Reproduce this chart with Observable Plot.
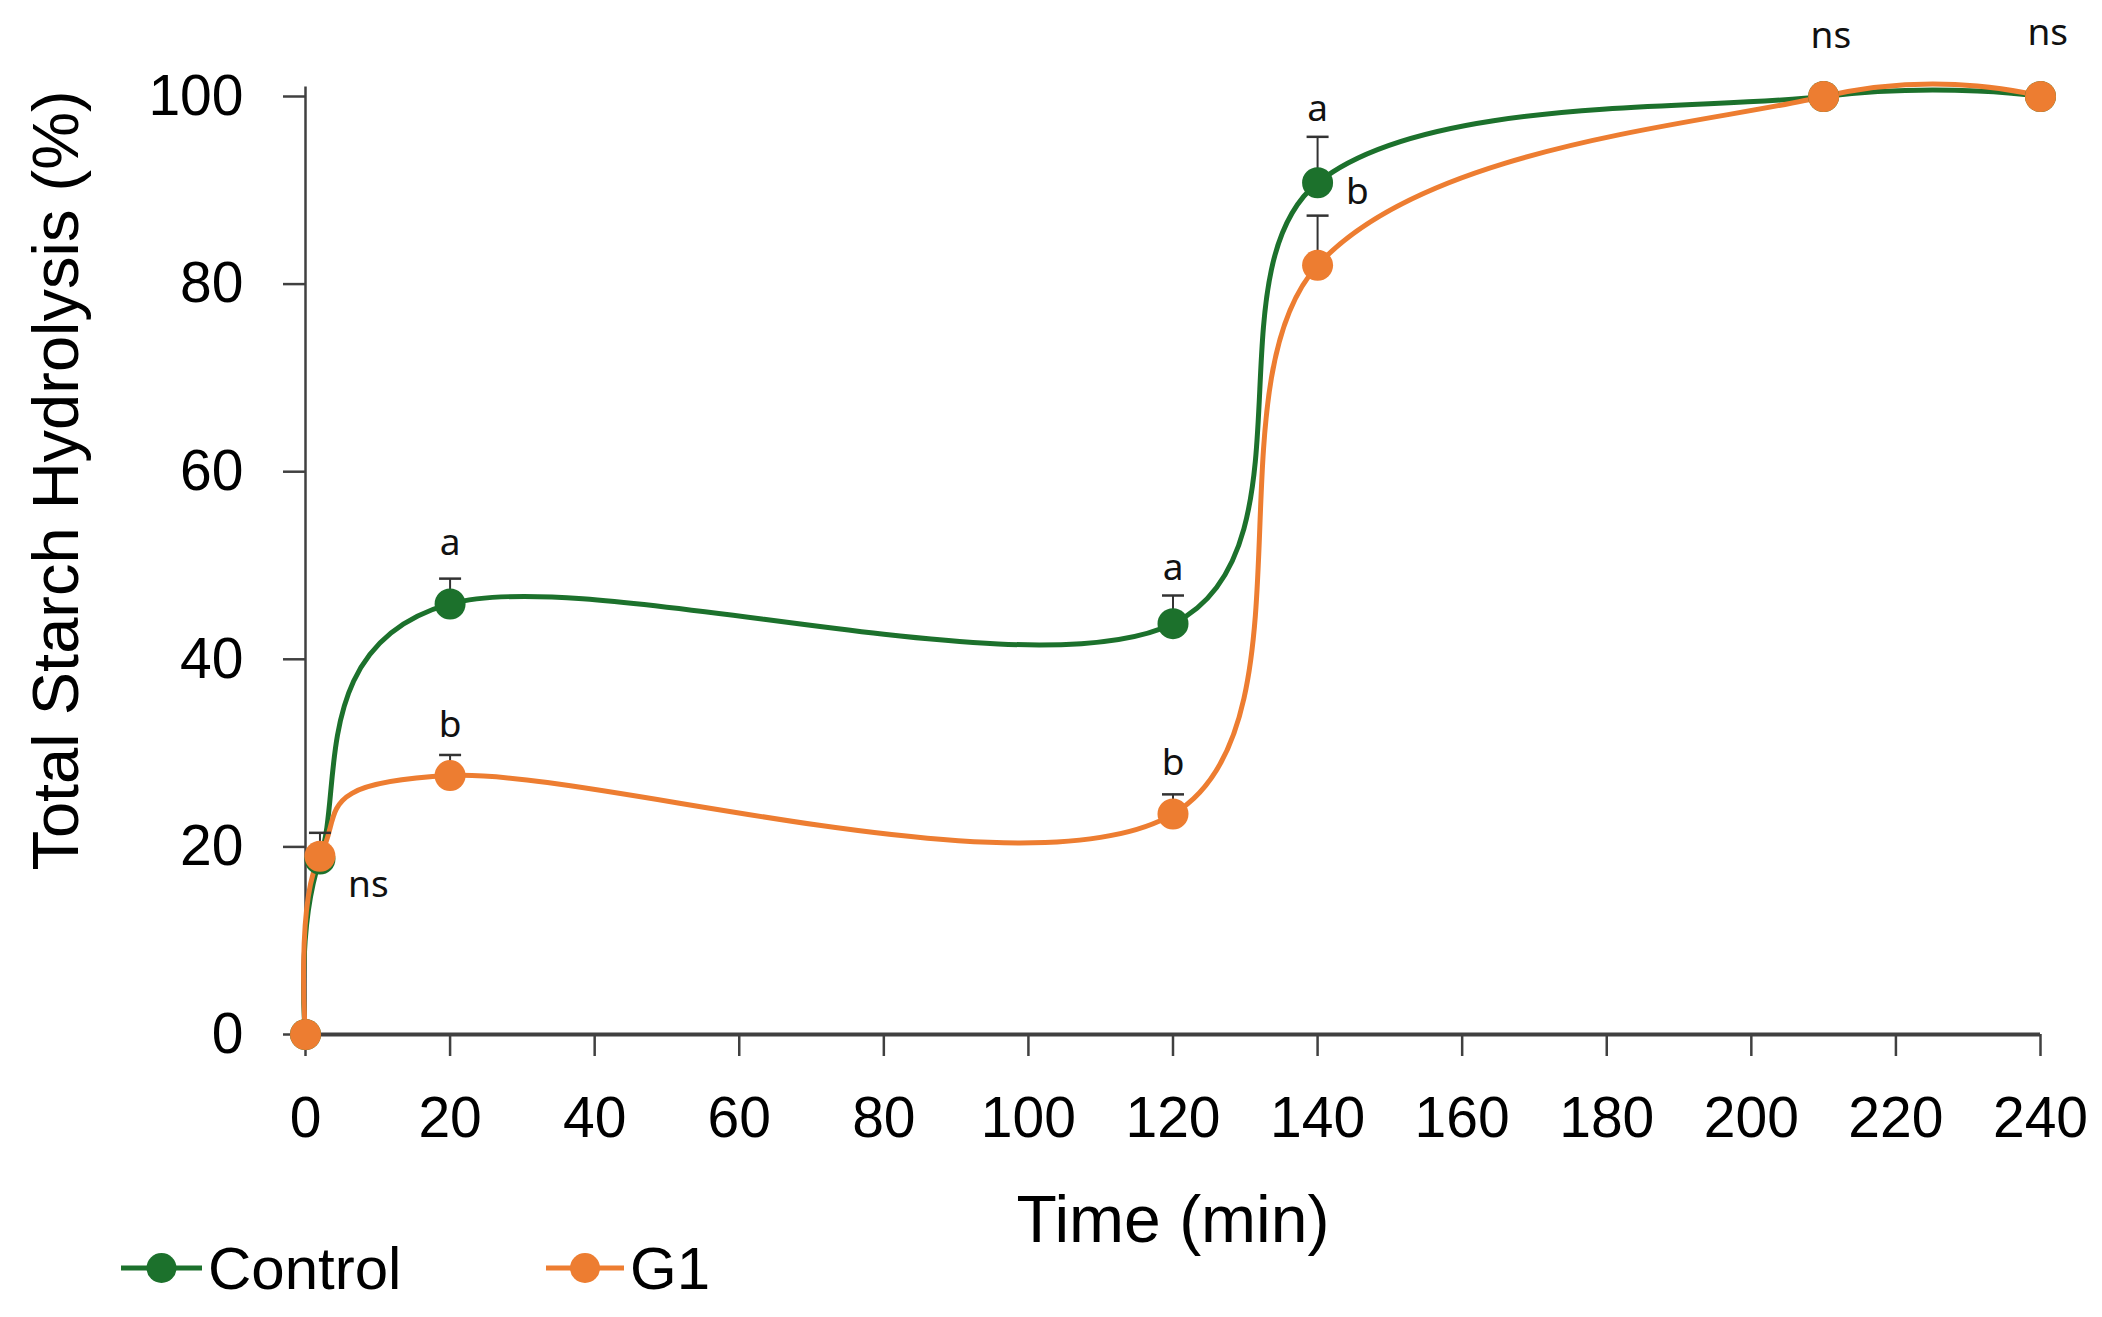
<!DOCTYPE html>
<html>
<head>
<meta charset="utf-8">
<script src="https://cdn.jsdelivr.net/npm/d3@7"></script>
<script src="https://cdn.jsdelivr.net/npm/@observablehq/plot@0.6"></script>
<style>
  html, body { margin: 0; padding: 0; background: #fff; }
  #wrap { position: relative; width: 2102px; height: 1317px; font-family: "Liberation Sans", Arial, sans-serif; }
  #legend { position: absolute; left: 0; top: 1238px; height: 60px; width: 900px; }
  #legend .item { position: absolute; top: 0; height: 60px; display: flex; align-items: center; font-size: 60px; color: #000; }
  #legend svg { display: block; }
</style>
</head>
<body>
<div id="wrap"><div id="chart"></div><div id="legend"></div></div>
<script>
// ---- data ----
const times = [0, 2, 20, 120, 140, 210, 240];
const controlValues = [0, 18.7, 45.9, 43.8, 90.8, 100, 100];
const g1Values = [0, 19.0, 27.6, 23.5, 82.0, 100, 100];
const controlErr = [null, 2.8, 2.7, 3.0, 4.9, null, null];
const g1Err = [null, null, 2.2, 2.1, 5.3, null, null];
const seriesNames = ["Control", "G1"];
const seriesColors = ["#1c712c", "#ed7d31"];
const annLabels = ["ns", "a", "b", "a", "b", "a", "b", "ns", "ns"];
const annX = [8.7, 20, 20, 120, 120, 140, 145.5, 211, 241];
const annY = [15.9, 52.4, 33.0, 49.7, 28.9, 98.6, 89.8, 106.4, 106.8];
const xTicks = [0, 20, 40, 60, 80, 100, 120, 140, 160, 180, 200, 220, 240];
const yTicks = [0, 20, 40, 60, 80, 100];

// ---- tables ----
const rows = [];
[controlValues, g1Values].forEach((vals, s) => {
  vals.forEach((v, i) => rows.push({series: seriesNames[s], t: times[i], v, err: [controlErr, g1Err][s][i]}));
});
const errRows = rows.filter(d => d.err != null).map(d => ({...d, top: d.v + d.err}));
const anns = annLabels.map((label, i) => ({label, x: annX[i], y: annY[i]}));

const capSymbol = {
  draw(context) { context.moveTo(-11, 0); context.lineTo(11, 0); }
};

const W = 2102, H = 1250;
const mL = 305, mR = 62, mT = 96, mB = H - 1034;
const axisColor = "#404040";

const chart = Plot.plot({
  width: W,
  height: H,
  marginLeft: mL,
  marginRight: mR,
  marginTop: mT,
  marginBottom: mB,
  style: {fontFamily: "'Liberation Sans', Arial, sans-serif", fontSize: "57px", color: "#000", background: "#fff", overflow: "visible"},
  x: {domain: [0, 240]},
  y: {domain: [0, 100]},
  color: {domain: seriesNames, range: seriesColors},
  marks: [
    Plot.axisX({ticks: xTicks, tickSize: 22, tickPadding: 40, tickFormat: d => String(d), label: null, stroke: axisColor, strokeWidth: 2.5}),
    Plot.axisY({ticks: yTicks, tickSize: 22, tickPadding: 40, tickFormat: d => String(d), label: null, stroke: axisColor, strokeWidth: 2.5}),
    Plot.ruleY([0], {x1: 0, x2: 240, stroke: axisColor, strokeWidth: 4}),
    Plot.ruleX([0], {y1: 0, y2: 101, stroke: axisColor, strokeWidth: 2.5}),
    Plot.line(rows, {x: "t", y: "v", z: "series", stroke: "series", strokeWidth: 5, curve: "cardinal", tension: 0}),
    Plot.ruleX(errRows, {x: "t", y1: "v", y2: "top", stroke: "#333", strokeWidth: 2}),
    Plot.dot(errRows, {x: "t", y: "top", symbol: capSymbol, stroke: "#333", strokeWidth: 2.5, r: 5}),
    Plot.dot(rows, {x: "t", y: "v", fill: "series", r: 15.5}),
    Plot.text(anns, {x: "x", y: "y", text: "label", fontSize: 37, fontFamily: "'Noto Sans', 'Open Sans', sans-serif", fill: "#111"}),
    Plot.text(["Time (min)"], {frameAnchor: "bottom", lineAnchor: "middle", dy: 1220 - 1034, fontSize: 66, textAnchor: "middle"}),
    Plot.text(["Total Starch Hydrolysis (%)"], {frameAnchor: "left", lineAnchor: "middle", rotate: -90, dx: 57 - mL, dy: 480 - (mT + 1034) / 2, fontSize: 65, textAnchor: "middle"})
  ]
});
document.getElementById("chart").appendChild(chart);

// ---- legend ----
const legend = document.getElementById("legend");
const legendPos = [{line: 121, text: 208}, {line: 546, text: 630}];
seriesNames.forEach((name, i) => {
  const item = document.createElement("div");
  item.className = "item";
  item.style.left = legendPos[i].line + "px";
  const ns = "http://www.w3.org/2000/svg";
  const svg = document.createElementNS(ns, "svg");
  const lw = legendPos[i].text - legendPos[i].line - 6;
  svg.setAttribute("width", lw + 6);
  svg.setAttribute("height", 60);
  const ln = document.createElementNS(ns, "line");
  ln.setAttribute("x1", 0); ln.setAttribute("x2", lw); ln.setAttribute("y1", 30); ln.setAttribute("y2", 30);
  ln.setAttribute("stroke", seriesColors[i]); ln.setAttribute("stroke-width", 5);
  const c = document.createElementNS(ns, "circle");
  c.setAttribute("cx", lw / 2); c.setAttribute("cy", 30); c.setAttribute("r", 15);
  c.setAttribute("fill", seriesColors[i]);
  svg.appendChild(ln); svg.appendChild(c);
  const span = document.createElement("span");
  span.textContent = name;
  item.appendChild(svg); item.appendChild(span);
  legend.appendChild(item);
});
</script>
</body>
</html>
